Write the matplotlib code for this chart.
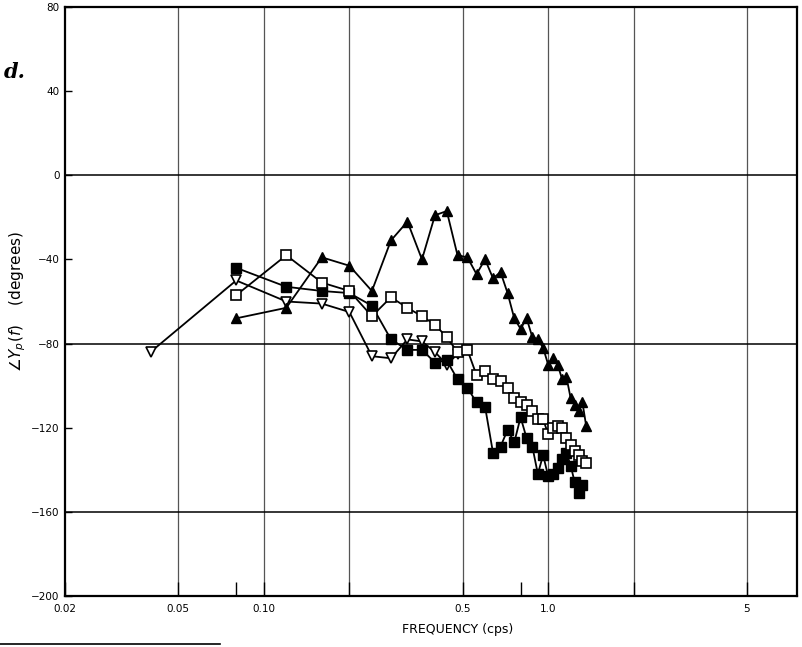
import matplotlib
matplotlib.use("Agg")
import matplotlib.pyplot as plt
from matplotlib.lines import Line2D

# harmonic frequencies (cps)
freq_tri_open = [0.04, 0.08, 0.12, 0.16, 0.20, 0.24, 0.28, 0.32, 0.36, 0.40, 0.44, 0.48]
phase_tri_open = [-84, -50, -60, -61, -65, -86, -87, -78, -79, -84, -90, -85]

freq_sq_filled = [0.08, 0.12, 0.16, 0.20, 0.24, 0.28, 0.32, 0.36, 0.40, 0.44,
                  0.48, 0.52, 0.56, 0.60, 0.64, 0.68, 0.72, 0.76, 0.80, 0.84,
                  0.88, 0.92, 0.96, 1.00, 1.04, 1.08, 1.12, 1.16, 1.20, 1.24,
                  1.28, 1.32]
phase_sq_filled = [-44, -53, -55, -56, -62, -78, -83, -83, -89, -88,
                   -97, -101, -108, -110, -132, -129, -121, -127, -115, -125,
                   -129, -142, -133, -143, -142, -139, -135, -132, -138, -146,
                   -151, -147]

freq_sq_open = [0.08, 0.12, 0.16, 0.20, 0.24, 0.28, 0.32, 0.36, 0.40, 0.44,
                0.48, 0.52, 0.56, 0.60, 0.64, 0.68, 0.72, 0.76, 0.80, 0.84,
                0.88, 0.92, 0.96, 1.00, 1.04, 1.08, 1.12, 1.16, 1.20, 1.24,
                1.28, 1.32, 1.36]
phase_sq_open = [-57, -38, -51, -55, -67, -58, -63, -67, -71, -77,
                 -84, -83, -95, -93, -97, -98, -101, -106, -108, -109,
                 -112, -116, -116, -123, -120, -119, -120, -125, -128, -131,
                 -133, -136, -137]

freq_tri_filled = [0.08, 0.12, 0.16, 0.20, 0.24, 0.28, 0.32, 0.36, 0.40, 0.44,
                   0.48, 0.52, 0.56, 0.60, 0.64, 0.68, 0.72, 0.76, 0.80, 0.84,
                   0.88, 0.92, 0.96, 1.00, 1.04, 1.08, 1.12, 1.16, 1.20, 1.24,
                   1.28, 1.32, 1.36]
phase_tri_filled = [-68, -63, -39, -43, -55, -31, -22, -40, -19, -17,
                    -38, -39, -47, -40, -49, -46, -56, -68, -73, -68,
                    -77, -78, -82, -90, -87, -90, -97, -96, -106, -109,
                    -112, -108, -119]

x_ticks = [0.02, 0.05, 0.10, 0.5, 1.0, 5]
x_ticklabels = ["0.02", "0.05", "0.10", "0.5", "1.0", "5"]
x_minor = [0.08, 0.2, 0.8, 2]
x_grid = [0.05, 0.1, 0.2, 0.5, 1.0, 2.0, 5.0]
y_ticks = [80, 40, 0, -40, -80, -120, -160, -200]
y_grid = [0, -80, -160]

fig = plt.figure(figsize=(8.02, 6.47), dpi=100)
ax = fig.add_axes([65 / 802, 1 - 596 / 647, 732 / 802, 589 / 647])
ax.set_xscale("log")
ax.set_xlim(0.02, 7.5)
ax.set_ylim(-200, 80)

for g in x_grid:
    ax.axvline(g, color="#555555", lw=0.9, zorder=1)
for g in y_grid:
    ax.axhline(g, color="black", lw=1.1, zorder=1)

line_kw = dict(color="black", lw=1.3, zorder=3)
ax.plot(freq_tri_open, phase_tri_open, marker="v", ms=6.5, mfc="white",
        mec="black", mew=1.2, **line_kw)
ax.plot(freq_sq_filled, phase_sq_filled, marker="s", ms=6.5, mfc="black",
        mec="black", **line_kw)
ax.plot(freq_sq_open, phase_sq_open, marker="s", ms=6.5, mfc="white",
        mec="black", mew=1.2, **line_kw)
ax.plot(freq_tri_filled, phase_tri_filled, marker="^", ms=6.5, mfc="black",
        mec="black", **line_kw)

ax.set_xticks(x_ticks)
ax.set_xticklabels(x_ticklabels)
ax.set_xticks(x_minor, minor=True)
ax.xaxis.set_minor_formatter(plt.NullFormatter())
ax.set_yticks(y_ticks)
ax.tick_params(axis="both", which="both", direction="in", length=5,
               width=1, labelsize=7.5, pad=4)
ax.tick_params(axis="x", which="both", length=10)
ax.tick_params(axis="x", pad=6)

for s in ax.spines.values():
    s.set_linewidth(1.6)

ax.set_xlabel("FREQUENCY (cps)", fontsize=9)
ax.xaxis.set_label_coords((458 - 65) / 732, -0.045)
ax.set_ylabel(r"$\angle Y_p(f)$    (degrees)", fontsize=11)
ax.yaxis.set_label_coords(-0.05, 0.5)

fig.text(0.005, 1 - 72 / 647, "d.", fontsize=15, style="italic",
         family="DejaVu Serif", weight="bold", va="center")
fig.add_artist(Line2D([0, 220 / 802], [1 - 644 / 647, 1 - 644 / 647],
                      color="black", lw=1.2))

fig.savefig("out.png", dpi=100)
